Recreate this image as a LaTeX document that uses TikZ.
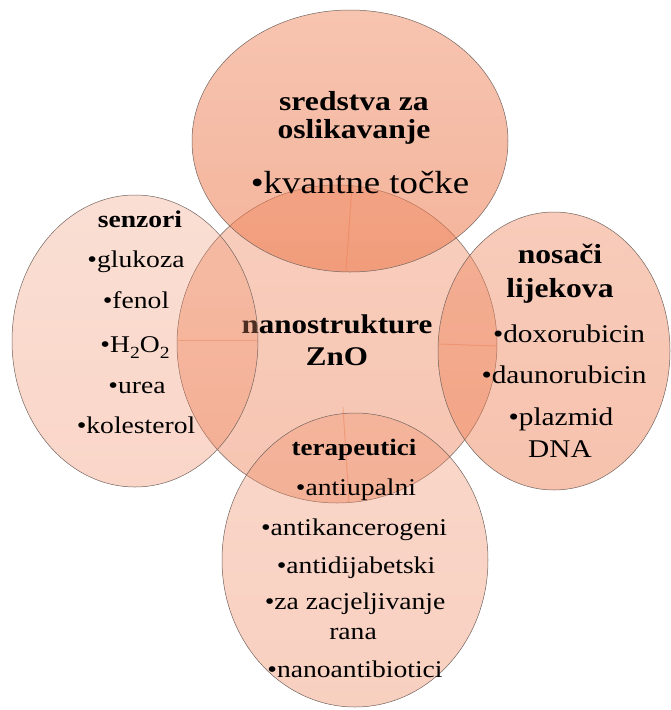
\documentclass[tikz,border=0pt]{standalone}
\usepackage{fontspec}
\setmainfont[FakeStretch=1.15]{Liberation Serif}
\usetikzlibrary{shapes.geometric}
\definecolor{sal}{RGB}{236,120,75}
\definecolor{rim}{RGB}{115,100,94}
\newcommand{\subn}[1]{\raisebox{-0.28em}{\fontsize{17}{17}\selectfont #1}}
\begin{document}
\begin{tikzpicture}[x=1pt,y=-1pt,
  blob/.style={ellipse, draw=rim, line width=0.5pt, inner sep=0pt},
  lbl/.style={anchor=base, inner sep=0pt, text=black},
  ttl/.style={lbl, font=\bfseries\fontsize{#1}{#1}\selectfont},
  itm/.style={lbl, font=\fontsize{#1}{#1}\selectfont},
  seam/.style={draw=sal, draw opacity=0.4, line width=1pt}]
\useasboundingbox (0,0) rectangle (671,710);

% hub
\node[blob, top color=sal!85!white, bottom color=sal, fill opacity=0.43,
      minimum width=320, minimum height=318] (hub) at (337,344) {};
\node[ttl=27] (h1) at (337,333) {nanostrukture};
\node[ttl=27] (h2) at (337,365) {ZnO};

% top: imaging
\node[blob, top color=sal!78!white, bottom color=sal, fill opacity=0.56,
      minimum width=316, minimum height=262] (img) at (350,141) {};
% right: drug carriers
\node[blob, top color=sal!85!white, bottom color=sal, fill opacity=0.45,
      minimum width=232, minimum height=278] (car) at (554,351) {};
% bottom: therapeutics
\node[blob, top color=sal!80!white, bottom color=sal!95!white, fill opacity=0.37,
      minimum width=266, minimum height=294] (thr) at (355,560) {};
% left: sensors
\node[blob, top color=sal!75!white, bottom color=sal!95!white, fill opacity=0.32,
      minimum width=246, minimum height=292] (sen) at (135,341) {};

% seams
\coordinate (sA) at (352,186); \coordinate (sB) at (346,271);
\coordinate (sC) at (178,340); \coordinate (sD) at (257,340);
\coordinate (sE) at (439,344); \coordinate (sF) at (496,346);
\coordinate (sG) at (343,407); \coordinate (sH) at (349,502);
\draw[seam] (sA) -- (sB);
\draw[seam] (sC) -- (sD);
\draw[seam] (sE) -- (sF);
\draw[seam] (sG) -- (sH);

% texts top
\node[ttl=27.5] (i1) at (354,110) {sredstva za};
\node[ttl=27.5] (i2) at (354,138) {oslikavanje};
\node[itm=32] (i3) at (360,193) {•kvantne točke};

% texts left
\node[ttl=24] (s0) at (140,227) {senzori};
\node[itm=24] (s1) at (136,267) {•glukoza};
\node[itm=24] (s2) at (136,308) {•fenol};
\node[itm=24] (s3) at (135,352) {•H\subn{2}O\subn{2}};
\node[itm=24] (s4) at (137,393) {•urea};
\node[itm=24] (s5) at (136,433) {•kolesterol};

% texts right
\node[ttl=27.5] (c0) at (560,263) {nosači};
\node[ttl=27.5] (c1) at (560,297) {lijekova};
\node[itm=25.5] (c2) at (569,342) {•doxorubicin};
\node[itm=25.5] (c3) at (564,383) {•daunorubicin};
\node[itm=25.5] (c4) at (561,425) {•plazmid};
\node[itm=25.5] (c5) at (560,457) {DNA};

% texts bottom
\node[ttl=23.5] (t0) at (354,455) {terapeutici};
\node[itm=24] (t1) at (356,495) {•antiupalni};
\node[itm=24] (t2) at (354,535) {•antikancerogeni};
\node[itm=24] (t3) at (356,573) {•antidijabetski};
\node[itm=24] (t4) at (355,609) {•za zacjeljivanje};
\node[itm=24] (t5) at (353,639) {rana};
\node[itm=24] (t6) at (355,677) {•nanoantibiotici};
\end{tikzpicture}
\end{document}
